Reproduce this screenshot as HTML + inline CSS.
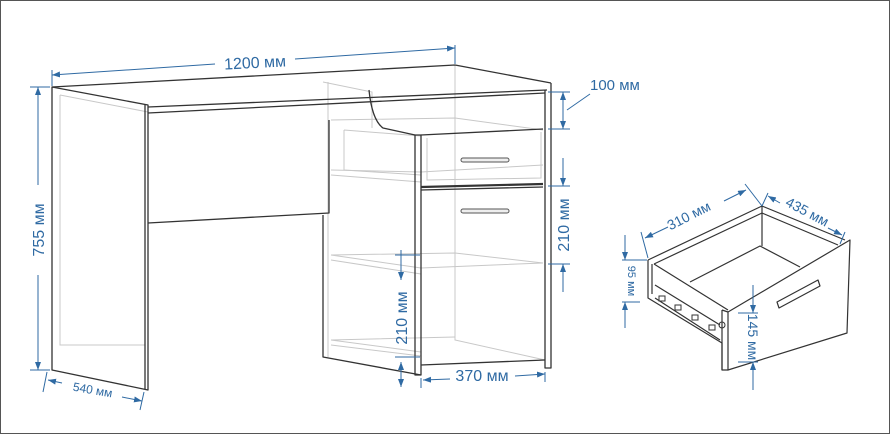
<!DOCTYPE html>
<html><head><meta charset="utf-8"><style>
html,body{margin:0;padding:0;background:#fff}
svg{display:block}
text{font-family:"Liberation Sans",sans-serif;fill:#2f6aa3}
</style></head><body>
<svg width="891" height="435" viewBox="0 0 891 435" xmlns="http://www.w3.org/2000/svg">
<defs>
<marker id="a" markerWidth="8" markerHeight="6" refX="8" refY="3" orient="auto-start-reverse" markerUnits="userSpaceOnUse"><path d="M0,0 L8,3 L0,6 z" fill="#2f6aa3"/></marker>
</defs>
<rect x="0.5" y="0.5" width="889" height="433" fill="#fff" stroke="#555" stroke-width="1"/>
<g stroke="#c8c8c8" stroke-width="1" fill="none">
<path d="M60,95 L60,345 L145,345"/>
<path d="M60,95 L148,112"/>
<path d="M323,82 L372,92 L372,128"/>
<path d="M328,82 L328,357"/>
<path d="M455,65 L455,340 L545,360"/>
<path d="M331,120 L455,118 L543,130"/>
<path d="M344,130 L344,170 L421,175 M344,130 L421,136"/>
<path d="M331,170 L421,172 L543,165 M331,175 L421,182"/>
<path d="M331,255 L421,268 L543,263 M331,260 L421,274 M331,255 L455,253 L543,263"/>
<path d="M331,340 L421,352 M331,345 L421,356 M331,340 L455,337"/>
<path d="M427,138 L427,180 L541,178 L541,132"/>
</g>
<g stroke="#333" stroke-width="1.3" fill="none" stroke-linejoin="round">
<path d="M52,87 L148,105 L148,390 L52,370 Z"/>
<path d="M145,105 L145,389"/>
<path d="M52,87 L455,65 L551,83"/>
<path d="M148,107 L547,90"/>
<path d="M148,113 L545,93"/>
<path d="M551,83 L551,368 L545,368 L545,90"/>
<path d="M148,223 L329,213 L329,120"/>
<path d="M323,215 L323,357 L421,375"/>
<path d="M369,90 Q372,120 383,128 L415,135"/>
<path d="M415,135 L415,375 L421,375 L421,135 Z"/>
<path d="M421,135 L543,129"/>
<path d="M421,187 L543,184" stroke-width="2.2"/>
<path d="M421,190 L543,187"/>
<path d="M421,365 L545,360"/>
</g>
<g stroke="#555" stroke-width="1" fill="#eee">
<rect x="461" y="158" width="48" height="4" rx="2"/>
<rect x="461" y="209" width="48" height="4" rx="2"/>
</g>
<g stroke="#2f6aa3" stroke-width="1" fill="none">
<path d="M52,70 L52,86 M455,45 L455,64"/>
<path d="M52,75 L215,64" marker-start="url(#a)"/>
<path d="M295,59 L455,48" marker-end="url(#a)"/>
<path d="M30,87 L50,87 M30,370 L50,370"/>
<path d="M38,87 L38,185" marker-start="url(#a)"/>
<path d="M38,275 L38,370" marker-end="url(#a)"/>
<path d="M47,372 L43,392 M144,392 L140,410"/>
<path d="M48,380 L62,383" marker-start="url(#a)"/>
<path d="M122,397 L142,401" marker-end="url(#a)"/>
<path d="M548,92 L570,92 M548,129 L570,129 M548,186 L570,186 M548,264 L570,264"/>
<path d="M563,92 L563,129" marker-start="url(#a)" marker-end="url(#a)"/>
<path d="M567,110 L590,94"/>
<path d="M563,158 L563,186" marker-end="url(#a)"/>
<path d="M563,264 L563,292" marker-start="url(#a)"/>
<path d="M395,255 L420,255 M395,357 L420,357"/>
<path d="M401,250 L401,280" marker-end="url(#a)"/>
<path d="M401,362 L401,387" marker-start="url(#a)" marker-end="url(#a)"/>
<path d="M421,378 L421,388 M545,372 L545,382"/>
<path d="M423,380 L450,379" marker-start="url(#a)"/>
<path d="M515,376 L545,374" marker-end="url(#a)"/>
</g>
<text x="255" y="68" font-size="16" text-anchor="middle" transform="rotate(-3 255 62)">1200 мм</text>
<text x="0" y="0" font-size="16" text-anchor="middle" transform="translate(44,230) rotate(-90)">755 мм</text>
<text x="0" y="0" font-size="12" text-anchor="middle" transform="translate(92,394) rotate(10)">540 мм</text>
<text x="590" y="90" font-size="15">100 мм</text>
<text x="0" y="0" font-size="16" text-anchor="middle" transform="translate(569,225) rotate(-90)">210 мм</text>
<text x="0" y="0" font-size="16" text-anchor="middle" transform="translate(407,318) rotate(-90)">210 мм</text>
<text x="482" y="381" font-size="16" text-anchor="middle">370 мм</text>
<g stroke="#333" stroke-width="1.2" fill="none" stroke-linejoin="round">
<path d="M648,260 L762,206 L845,240"/>
<path d="M654,264 L762,213 L838,245"/>
<path d="M762,206 L762,246"/>
<path d="M690,282 L760,246 L800,267"/>
<path d="M648,260 L648,298 L722,343 L722,370"/>
<path d="M652,264 L652,294"/>
<path d="M654,264 L728,310"/>
<path d="M728,312 L850,240 L847,333 L728,370 Z"/>
<path d="M722,310 L728,312 M722,310 L722,370 L728,370"/>
<path d="M777,302 L818,280 L820,286 L779,308 Z"/>
<path d="M655,285 L720,325 M655,298 L720,340"/>
</g>
<g fill="none" stroke="#333" stroke-width="1">
<rect x="659" y="296" width="6" height="5"/>
<rect x="675" y="305" width="6" height="5"/>
<rect x="692" y="315" width="6" height="5"/>
<rect x="709" y="325" width="6" height="5"/>
<circle cx="722" cy="325" r="3"/>
</g>
<g stroke="#2f6aa3" stroke-width="1" fill="none">
<path d="M641,232 L648,258 M745,184 L762,206 M762,206 L768,193 M845,232 L840,244"/>
<path d="M645,238 L668,227" marker-start="url(#a)"/>
<path d="M724,201 L746,190" marker-end="url(#a)"/>
<path d="M768,196 L780,203" marker-start="url(#a)"/>
<path d="M828,228 L842,235" marker-end="url(#a)"/>
<path d="M622,260 L647,260 M622,302 L640,302"/>
<path d="M625,235 L625,260" marker-end="url(#a)"/>
<path d="M625,302 L625,328" marker-start="url(#a)"/>
<path d="M738,313 L758,313 M738,362 L758,362"/>
<path d="M753,285 L753,313" marker-end="url(#a)"/>
<path d="M753,362 L753,390" marker-start="url(#a)"/>
</g>
<text x="0" y="0" font-size="14" text-anchor="middle" transform="translate(691,220) rotate(-27)">310 мм</text>
<text x="0" y="0" font-size="14" text-anchor="middle" transform="translate(805,216) rotate(28)">435 мм</text>
<text x="0" y="0" font-size="11" text-anchor="middle" transform="translate(628,281) rotate(90)">95 мм</text>
<text x="0" y="0" font-size="14" text-anchor="middle" transform="translate(748,337) rotate(90)">145 мм</text>
</svg>
</body></html>
